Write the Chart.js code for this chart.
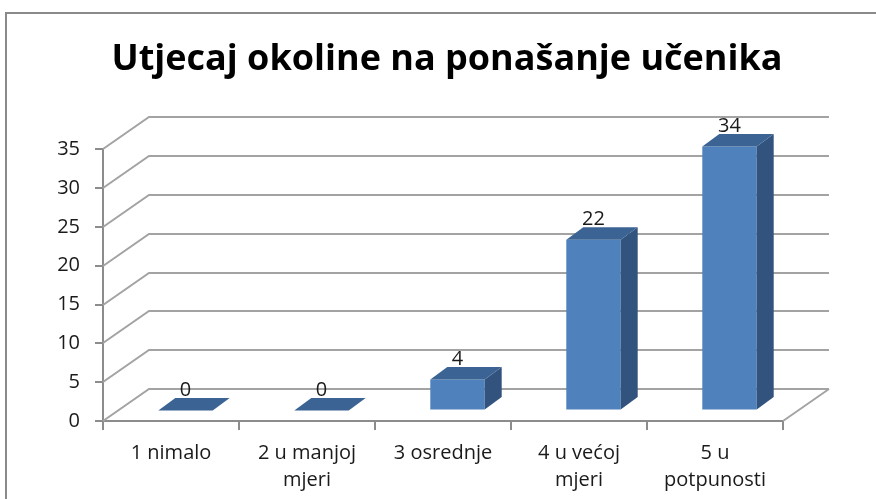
<!DOCTYPE html>
<html>
<head>
<meta charset="utf-8">
<script src="https://cdn.jsdelivr.net/npm/chart.js@4/dist/chart.umd.min.js"></script>
<style>
  html, body { margin: 0; padding: 0; background: #fff; overflow: hidden; }
  #wrap { position: relative; width: 876px; height: 499px; }
  #frame { position: absolute; left: 5px; top: 12px; width: 900px; height: 520px; border: 2px solid #8a8a8a; box-sizing: border-box; }
  canvas { position: absolute; left: 0; top: 0; }
</style>
</head>
<body>
<div id="wrap">
  <div id="frame"></div>
  <canvas id="c" width="876" height="499"></canvas>
</div>
<script>
const titleText = 'Utjecaj okoline na ponašanje učenika';
const categories = [['1 nimalo'], ['2 u manjoj', 'mjeri'], ['3 osrednje'], ['4 u većoj', 'mjeri'], ['5 u', 'potpunosti']];
const values = [0, 0, 4, 22, 34];
const yTicks = [0, 5, 10, 15, 20, 25, 30, 35];

const FONT = '"Open Sans", Lato, sans-serif';
const WALL = { dx: 46, dy: -32 };
const BAR_SHIFT = { dx: 14.5, dy: -10.5 };
const BAR_DEPTH = { dx: 17, dy: -12.5 };
const GRID = '#a3a3a3';

const threeD = {
  id: 'threeD',
  beforeDatasetsDraw(chart) {
    const { ctx, chartArea: a, scales: { y } } = chart;
    ctx.save();
    ctx.strokeStyle = GRID;
    ctx.lineWidth = 2;
    yTicks.forEach(v => {
      const yp = Math.round(y.getPixelForValue(v));
      ctx.beginPath();
      ctx.moveTo(a.left, yp);
      ctx.lineTo(a.left + WALL.dx, yp + WALL.dy);
      ctx.lineTo(a.right + WALL.dx, yp + WALL.dy);
      ctx.stroke();
    });
    const yb = Math.round(y.getPixelForValue(0));
    ctx.beginPath();
    ctx.moveTo(a.right, yb);
    ctx.lineTo(a.right + WALL.dx, yb + WALL.dy);
    ctx.stroke();
    ctx.restore();
    ctx.save();
    ctx.translate(BAR_SHIFT.dx, BAR_SHIFT.dy);
  },
  afterDatasetsDraw(chart) {
    const { ctx } = chart;
    ctx.restore();
    const meta = chart.getDatasetMeta(0);
    ctx.save();
    meta.data.forEach((el, i) => {
      const p = el.getProps(['x', 'y', 'base', 'width'], true);
      const L = p.x - p.width / 2 + BAR_SHIFT.dx;
      const R = p.x + p.width / 2 + BAR_SHIFT.dx;
      const T = p.y + BAR_SHIFT.dy;
      const B = p.base + BAR_SHIFT.dy;
      if (B - T > 0.5) {
        ctx.fillStyle = '#31537E';
        ctx.beginPath();
        ctx.moveTo(R, T);
        ctx.lineTo(R + BAR_DEPTH.dx, T + BAR_DEPTH.dy);
        ctx.lineTo(R + BAR_DEPTH.dx, B + BAR_DEPTH.dy);
        ctx.lineTo(R, B);
        ctx.closePath();
        ctx.fill();
      }
      ctx.fillStyle = '#3B6494';
      ctx.beginPath();
      ctx.moveTo(L, T);
      ctx.lineTo(R, T);
      ctx.lineTo(R + BAR_DEPTH.dx, T + BAR_DEPTH.dy);
      ctx.lineTo(L + BAR_DEPTH.dx, T + BAR_DEPTH.dy);
      ctx.closePath();
      ctx.fill();
      ctx.fillStyle = '#1a1a1a';
      ctx.font = '20px ' + FONT;
      ctx.textAlign = 'center';
      ctx.textBaseline = 'alphabetic';
      ctx.fillText(String(values[i]), (L + R) / 2, T + BAR_DEPTH.dy - 2);
    });
    ctx.restore();
  }
};

new Chart(document.getElementById('c'), {
  type: 'bar',
  data: {
    labels: categories,
    datasets: [{
      data: values,
      backgroundColor: '#4F81BD',
      borderWidth: 0,
      categoryPercentage: 1,
      barPercentage: 0.4,
      clip: false
    }]
  },
  options: {
    responsive: false,
    animation: false,
    devicePixelRatio: 1,
    layout: { padding: { left: 18, right: 0, top: 0, bottom: 0 } },
    plugins: {
      legend: { display: false },
      tooltip: { enabled: false },
      title: {
        display: true,
        text: titleText,
        color: '#000',
        font: { family: FONT, size: 36, weight: 'bold' },
        padding: { top: 38, bottom: 68 }
      }
    },
    scales: {
      x: {
        grid: { drawOnChartArea: false, tickLength: 9, color: '#8c8c8c', lineWidth: 2, offset: true },
        border: { display: true, color: '#8c8c8c', width: 2 },
        ticks: { color: '#1a1a1a', font: { family: FONT, size: 20, lineHeight: 1.35 }, padding: 10, maxRotation: 0, autoSkip: false },
        afterFit(s) { s.height = 499 - 421; }
      },
      y: {
        min: 0, max: 35,
        afterBuildTicks(s) { s.ticks = yTicks.map(v => ({ value: v })); },
        grid: { drawOnChartArea: false, tickLength: 8, color: '#8c8c8c', lineWidth: 2 },
        border: { display: true, color: '#8c8c8c', width: 2 },
        ticks: { color: '#1a1a1a', font: { family: FONT, size: 20 }, padding: 15 },
        afterFit(s) { s.width = 103 - 18; }
      },
      yRight: {
        position: 'right',
        display: true,
        grid: { display: false },
        border: { display: false },
        ticks: { display: false },
        afterFit(s) { s.width = 93; }
      }
    }
  },
  plugins: [threeD]
});
</script>
</body>
</html>
